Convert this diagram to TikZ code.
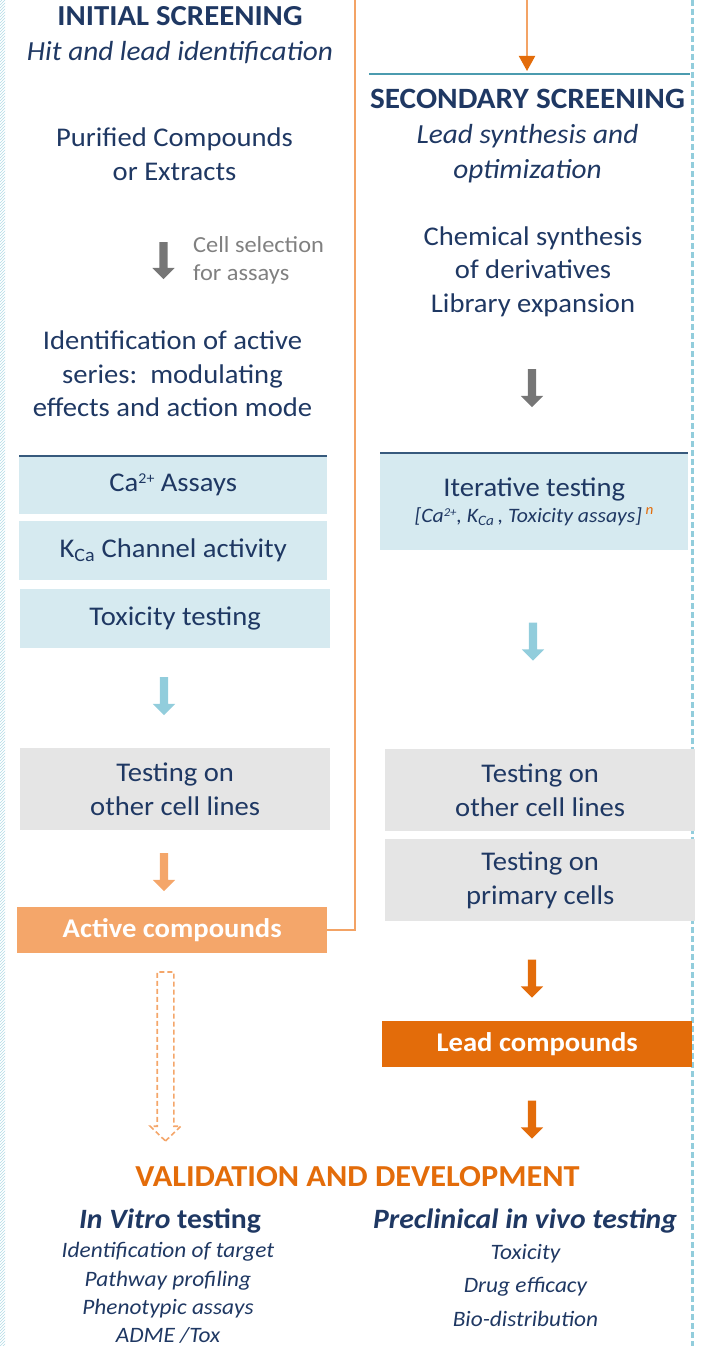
\documentclass[tikz,border=0pt]{standalone}
\usepackage{fontspec}
\setmainfont[FakeStretch=1.06]{Carlito}
\usetikzlibrary{positioning}
\usetikzlibrary{shapes.arrows}
\usetikzlibrary{arrows.meta}
\usetikzlibrary{patterns}
\definecolor{navy}{RGB}{31,56,99}
\definecolor{notegrey}{RGB}{128,128,128}
\definecolor{boxblue}{RGB}{214,234,240}
\definecolor{boxgrey}{RGB}{229,229,229}
\definecolor{arrowgrey}{RGB}{118,118,118}
\definecolor{arrowblue}{RGB}{146,205,220}
\definecolor{lightorange}{RGB}{244,166,106}
\definecolor{darkorange}{RGB}{227,108,10}
\definecolor{ruleblue}{RGB}{55,90,125}
\definecolor{tealrule}{RGB}{75,155,175}
\newcommand\setfs[2]{\fontsize{#1}{#2}\selectfont}
\newcommand\subt[1]{{\setfs{27.6}{35}\itshape #1}}
\newcommand\caion{Ca{\setfs{15}{15}\raisebox{8pt}{2+}}}
\def\myboxwidth{308}
\def\mywidebox{310}
\tikzset{
my text/.style={text=navy,align=center,inner sep=0pt},
main/.style={my text,font=\setfs{27}{33.5}},
title/.style={my text,font=\setfs{29}{35}},
note/.style={text=notegrey,align=left,inner sep=0pt,font=\setfs{23}{28}},
list/.style={my text,font=\setfs{22}{28.3}\itshape},
my box/.style={anchor=north west,inner sep=0pt,align=center,text=navy,font=\setfs{27}{34}},
blue box/.style={my box,fill=boxblue},
grey box/.style={my box,fill=boxgrey},
result box/.style={my box,text=white,font=\setfs{27}{34}\bfseries},
block arrow/.style={single arrow,draw=none,inner xsep=0pt,inner ysep=4,rotate=-90,
  minimum height=#1,single arrow head extend=7,single arrow tip angle=90},
block arrow/.default=38,
hollow arrow/.style={single arrow,draw=lightorange,line width=1.6,
  dash pattern=on 5 off 3,inner xsep=0pt,inner ysep=7.5,rotate=-90,minimum height=169,
  single arrow head extend=7,single arrow tip angle=92},
box rule/.style={draw=ruleblue,line width=1.2},
head rule/.style={draw=tealrule,line width=1.5},
feedback/.style={draw=lightorange!95!darkorange,line width=2},
side line/.style={draw=arrowblue,line width=3,dash pattern=on 6 off 3}
}
\begin{document}
\begin{tikzpicture}[x=1pt,y=-1pt]
\useasboundingbox (0,0) rectangle (705,1346);

% panel edges
\fill[pattern=north east lines,pattern color=arrowblue!70] (0,0) rectangle (5,1346);
\draw[side line] (692,0) -- (692,1346);

% initial screening
\node[title] (init) at (180,35) {\textbf{INITIAL SCREENING}\\\subt{Hit and lead identification}};
\node[main] (purified) at (174.5,154) {Purified Compounds\\or Extracts};
\node[block arrow=37,fill=arrowgrey] (sel) at (163.5,258.5) {};
\node[note,anchor=west] (selnote) at (193,260.5) {Cell selection\\for assays};
\node[main] (ident) at (172.5,374) {Identification of active\\series:\ \ modulating\\effects and action mode};

\node[blue box,minimum width=\myboxwidth,minimum height=58] (ca) at (19,456) {\caion{} Assays};
\draw[box rule] (ca.north west) -- (ca.north east);
\node[blue box,minimum width=\myboxwidth,minimum height=59] (kca) at (19,521) {K\textsubscript{Ca} Channel activity};
\node[blue box,minimum width=\mywidebox,minimum height=59] (tox) at (20,589) {Toxicity testing};
\node[block arrow,fill=arrowblue] (down1) at (164,694) {};
\node[grey box,minimum width=\mywidebox,minimum height=82] (linesL) at (20,748) {Testing on\\other cell lines};
\node[block arrow,fill=lightorange] (down2) at (164,870) {};
\node[result box,fill=lightorange,minimum width=\mywidebox,minimum height=46] (active) at (17,907) {Active compounds};
\node[hollow arrow] (todev) at (165.5,1052.5) {};

% loop back into the secondary screening
\coordinate (looptop) at (355,0);
\draw[feedback] (active.east) -| (looptop);
\coordinate (feedin) at (527,0);
\coordinate (secin) at (527,71);
\draw[feedback,-{Triangle[length=15,width=16,color=darkorange]}] (feedin) -- (secin);

% secondary screening
\draw[head rule] (369,74) -- (690,74);
\node[title,font=\setfs{29.5}{35}] (second) at (527.5,136.2) {\textbf{SECONDARY SCREENING}\\\subt{Lead synthesis and}\\\subt{optimization}};
\node[main] (chem) at (533,271.5) {Chemical synthesis\\of derivatives\\Library expansion};
\node[block arrow,fill=arrowgrey] (down3) at (532,386) {};
\node[blue box,minimum width=\myboxwidth,minimum height=97] (iter) at (380,453)
  {Iterative testing\\[-8pt]{\setfs{20.5}{22}\itshape [Ca{\setfs{12}{12}\raisebox{6pt}{2+}}, K\textsubscript{Ca}\,, Toxicity assays]\,\textsuperscript{\textcolor{darkorange}{n}}}};
\draw[box rule] (iter.north west) -- (iter.north east);
\node[block arrow,fill=arrowblue] (down4) at (533,639.5) {};
\node[grey box,minimum width=\mywidebox,minimum height=82] (linesR) at (385,749) {Testing on\\other cell lines};
\node[grey box,minimum width=\mywidebox,minimum height=82] (primary) at (385,839) {Testing on\\primary cells};
\node[block arrow,fill=darkorange] (down5) at (532,976.5) {};
\node[result box,fill=darkorange,minimum width=\mywidebox,minimum height=46] (lead) at (382,1021) {Lead compounds};
\node[block arrow,fill=darkorange] (down6) at (532,1117.5) {};

% validation and development
\node[title,font=\setfs{30.5}{35},text=darkorange] (valid) at (357.5,1177) {\textbf{VALIDATION AND DEVELOPMENT}};
\node[title,font=\setfs{28}{34}] (vitro) at (170,1221) {\textbf{\textit{In Vitro} testing}};
\node[title,font=\setfs{28}{34}] (vivo) at (525,1221) {\textbf{\textit{Preclinical in vivo testing}}};
\node[list] (vitrolist) at (168,1293) {Identification of target\\Pathway profiling\\Phenotypic assays\\ADME /Tox};
\node[list,font=\setfs{22}{33.5}\itshape] (vivolist) at (525.5,1285) {Toxicity\\Drug efficacy\\Bio-distribution};
\end{tikzpicture}
\end{document}
